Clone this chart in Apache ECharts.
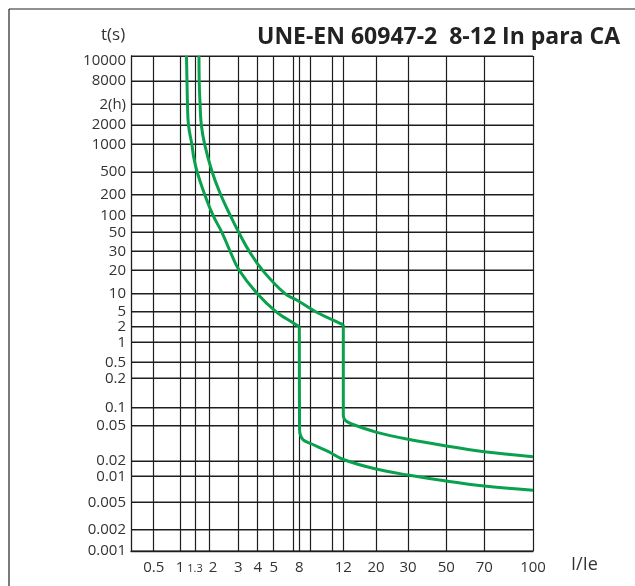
<!DOCTYPE html>
<html>
<head>
<meta charset="utf-8">
<script src="https://cdn.jsdelivr.net/npm/echarts@6/dist/echarts.min.js"></script>
<style>
  html, body { margin: 0; padding: 0; background: #fff; }
  #chart { width: 635px; height: 586px; }
</style>
</head>
<body>
<div id="chart"></div>
<script>
// I/Ie grid lines of the hand-drawn sheet (labels '' = unlabelled line)
var xTicks = [0.5, 1, 1.3, 2, 3, 4, 5, 7, 8, 9, 11, 12, 20, 30, 50, 70, 100];
var xLabels = ['0.5', '1', '1.3', '2', '3', '4', '5', '', '8', '', '', '12', '20', '30', '50', '70', '100'];
// where each line sits along the axis, 0..100 (the sheet is not a true log scale)
var xTickPos = [5.65, 12.19, 15.92, 19.40, 26.69, 31.52, 35.50, 40.30, 41.87, 44.60, 50.17, 52.81, 60.95, 68.91, 78.43, 87.89, 100];

// t(s) grid lines, 2(h) = 7200 s
var yTicks = [0.001, 0.002, 0.005, 0.01, 0.02, 0.05, 0.1, 0.2, 0.5, 1, 2, 5, 10, 20, 30, 50, 100, 200, 500, 1000, 2000, 7200, 8000, 10000];
var yLabels = ['0.001', '0.002', '0.005', '0.01', '0.02', '0.05', '0.1', '0.2', '0.5', '1', '2', '5', '10', '20', '30', '50', '100', '200', '500', '1000', '2000', '2(h)', '8000', '10000'];
var yTickPos = [0, 4.30, 9.84, 15.09, 18.18, 25.31, 28.95, 34.89, 38.12, 42.16, 45.31, 48.34, 51.98, 56.71, 60.55, 64.38, 67.74, 72.02, 76.57, 82.16, 86.06, 90.24, 94.95, 100];

// lower curve (8 In)
var lowI = [1.12, 1.13, 1.14, 1.16, 1.23, 1.27, 1.39, 1.75, 2.12, 2.39, 2.68, 3.04, 3.98, 5.2, 6.34, 8, 8.02, 8.1, 8.35, 9.11, 10.6, 12, 20, 30, 50, 70, 100];
var lowT = [10000, 8000, 7200, 2000, 1000, 730, 500, 200, 100, 50, 30, 20, 10, 5, 3.14, 2, 0.046, 0.039, 0.0345, 0.0311, 0.0255, 0.0208, 0.0139, 0.0106, 0.0088, 0.0077, 0.0069];

// upper curve (12 In)
var highI = [1.47, 1.48, 1.52, 1.58, 1.75, 2.09, 2.35, 2.69, 3.02, 3.53, 4.28, 6.09, 7.57, 9.45, 11.68, 12, 12, 12.15, 12.52, 13.68, 20.2, 30, 50, 70, 100];
var highT = [10000, 8000, 7200, 2000, 1000, 500, 200, 100, 50, 30, 20, 10, 7.85, 5, 2.46, 2.29, 0.0755, 0.066, 0.06, 0.0534, 0.0421, 0.0351, 0.0295, 0.0255, 0.0224];

// log interpolation between the sheet's grid lines
function toPos(v, ticks, pos) {
  var lv = Math.log(v);
  for (var i = 0; i < ticks.length - 1; i++) {
    if (v <= ticks[i + 1] || i === ticks.length - 2) {
      var f = (lv - Math.log(ticks[i])) / (Math.log(ticks[i + 1]) - Math.log(ticks[i]));
      return pos[i] + f * (pos[i + 1] - pos[i]);
    }
  }
}

function toSeries(iv, tv) {
  return iv.map(function (x, k) {
    return [toPos(x, xTicks, xTickPos), toPos(tv[k], yTicks, yTickPos)];
  });
}

// the knee is where the instantaneous drop starts (biggest fall in t)
function kneeIndex(tv) {
  var best = 0, k = 0;
  for (var i = 0; i < tv.length - 1; i++) {
    if (tv[i] / tv[i + 1] > best) { best = tv[i] / tv[i + 1]; k = i; }
  }
  return k;
}

var xLabelMap = {}, xLabelPos = [];
xTickPos.forEach(function (p, i) {
  if (xLabels[i]) { xLabelMap[p] = xLabels[i]; xLabelPos.push(p); }
});
var yLabelMap = {};
yTickPos.forEach(function (p, i) { yLabelMap[p] = yLabels[i]; });

var green = '#0aa14e';
var ink = '#333';
var gridColor = '#1e1e1e';

// horizontal grid lines as thin bars, placed through the y axis
var series = [{
  type: 'custom',
  z: 1,
  clip: false,
  data: yTickPos.map(function (p) { return [50, p]; }),
  encode: { x: 0, y: 1 },
  renderItem: function (params, api) {
    var a = api.coord([0, api.value(1)]);
    var b = api.coord([100, api.value(1)]);
    return {
      type: 'rect',
      shape: { x: a[0], y: Math.round(a[1]) - 0.5, width: b[0] - a[0], height: 1 },
      style: { fill: gridColor, stroke: null }
    };
  }
}];

[[lowI, lowT], [highI, highT]].forEach(function (c) {
  var pts = toSeries(c[0], c[1]);
  var k = kneeIndex(c[1]);
  series.push({
    type: 'line',
    showSymbol: false,
    smooth: 0.45,
    z: 3,
    data: pts.slice(0, k + 1),
    lineStyle: { color: green, width: 3 }
  }, {
    type: 'line',
    showSymbol: false,
    smooth: 0.35,
    z: 3,
    data: pts.slice(k),
    lineStyle: { color: green, width: 3 }
  });
});

// outer frame: only its top and left edges fall inside the picture
var frame = [
  { type: 'line', silent: true, shape: { x1: 9, y1: 9, x2: 640, y2: 9 }, style: { stroke: '#222', lineWidth: 1.2 } },
  { type: 'line', silent: true, shape: { x1: 9, y1: 9, x2: 9, y2: 590 }, style: { stroke: '#222', lineWidth: 1.2 } },
  { type: 'text', left: 101, top: 27, style: { text: 't(s)', font: '17px "Open Sans"', fill: ink } },
  { type: 'text', left: 571, top: 556, style: { text: 'I/Ie', font: '18px "Open Sans"', fill: ink } }
];

var chart = echarts.init(document.getElementById('chart'));

chart.setOption({
  backgroundColor: '#fff',
  animation: false,
  textStyle: { fontFamily: 'Open Sans' },
  title: {
    text: 'UNE-EN 60947-2  8-12 In para CA',
    right: 10,
    top: 21,
    textStyle: { fontFamily: 'Open Sans', fontWeight: 'bold', fontSize: 23, color: '#222' }
  },
  graphic: frame,
  grid: { left: 131, right: 102, top: 56, bottom: 35 },
  xAxis: {
    type: 'value',
    min: 0,
    max: 100,
    axisLine: { show: true, lineStyle: { color: gridColor, width: 1.3 } },
    axisTick: { show: false, customValues: xTickPos },
    splitLine: { show: true, lineStyle: { color: gridColor, width: 1.2 } },
    axisLabel: {
      customValues: xLabelPos,
      margin: 9,
      fontSize: 15,
      color: ink,
      formatter: function (v) {
        var s = xLabelMap[v];
        if (s === '1.3') return '{s|1.3}';
        if (s === '2') return '{r|2}';
        return s;
      },
      rich: {
        s: { fontSize: 11, color: ink, fontFamily: 'Open Sans', padding: [3, 0, 0, 0] },
        r: { fontSize: 15, color: ink, fontFamily: 'Open Sans', padding: [0, 0, 0, 8] }
      }
    }
  },
  yAxis: {
    type: 'value',
    min: 0,
    max: 100,
    axisLine: { show: true, lineStyle: { color: gridColor, width: 1.3 } },
    axisTick: { show: false, customValues: yTickPos },
    splitLine: { show: true, lineStyle: { color: gridColor, width: 1 } },
    axisLabel: {
      customValues: yTickPos,
      margin: 5,
      fontSize: 15,
      color: ink,
      formatter: function (v) {
        var s = yLabelMap[v];
        return s === '10000' ? '{top|10000}' : s;
      },
      rich: { top: { fontSize: 15, color: ink, fontFamily: 'Open Sans', padding: [10, 0, 0, 0] } }
    }
  },
  series: series
});
</script>
</body>
</html>
